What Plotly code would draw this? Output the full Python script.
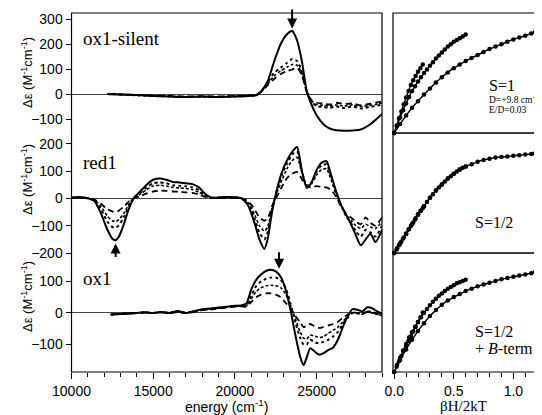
import plotly.graph_objects as go

# The page body adds an 8 px margin, so the figure is drawn 8 px smaller and reference
# pixel positions are converted with that offset.
OFF = 8
W, H = 542 - OFF, 415 - OFF
def px(xp): return (xp - OFF) / W
def py(yp): return 1 - (yp - OFF) / H

# ---------------- data: MCD spectra (energy in cm-1, delta-eps in M-1 cm-1) ----------------
E_top = [12200, 13000, 14000, 15000, 16000, 17000, 18000, 19000, 20000, 20800, 21300, 21600, 22000, 22400,
         22800, 23200, 23500, 23800, 24100, 24400, 24700, 25000, 25400, 25800, 26200, 26700, 27200, 27700,
         28200, 28600, 29000]
top_solid = [0, -2, -4, -8, -10, -12, -10, -12, -10, -8, -5, 10, 50, 130, 200, 240, 252, 215, 130, 10,
             -45, -85, -120, -138, -145, -147, -146, -142, -125, -104, -80]
top_dot = [0, -2, -5, -8, -10, -12, -11, -12, -10, -8, -5, 10, 45, 85, 105, 125, 140, 132, 90, 8,
           -32, -48, -52, -55, -50, -56, -50, -58, -52, -48, -42]
top_dd = [0, -2, -4, -7, -9, -11, -10, -11, -9, -7, -4, 9, 40, 72, 92, 108, 118, 115, 82, 8,
          -28, -42, -45, -48, -44, -48, -44, -50, -46, -42, -36]
top_dash = [0, -2, -4, -6, -8, -10, -9, -10, -8, -6, -4, 8, 35, 60, 80, 92, 98, 105, 75, 6,
            -25, -35, -38, -42, -35, -40, -38, -45, -40, -35, -30]

E_mid = [10000, 10500, 11000, 11400, 11800, 12200, 12500, 12700, 12900, 13200, 13500, 13800, 14200, 14600,
         15000, 15400, 15800, 16200, 16600, 17000, 17400, 17800, 18200, 18600, 19000, 19500, 20000, 20400,
         20800, 21200, 21500, 21800, 22000, 22300, 22600, 22900, 23200, 23500, 23800, 24100, 24400, 24700,
         25000, 25300, 25600, 25900, 26200, 26500, 26800, 27100, 27400, 27700, 28000, 28300, 28600, 29000]
mid_solid = [3, 5, 0, -10, -55, -115, -148, -153, -140, -95,
             -40, 0, 25, 50, 68, 73, 68, 60, 58, 55,
             52, 40, 15, 2, 3, 5, 4, 0, -25, -90,
             -150, -185, -150, -40, 40, 100, 140, 170, 188, 100,
             38, 60, 104, 130, 136, 82, 25, -25, -60, -95,
             -135, -172, -150, -130, -160, -116]
mid_dot = [2, 3, 0, -8, -40, -85, -105, -108, -98, -70,
           -30, 0, 20, 40, 55, 58, 55, 48, 46, 44,
           40, 30, 10, 2, 3, 4, 3, 0, -20, -75,
           -125, -150, -125, -35, 35, 90, 128, 160, 172, 100,
           42, 58, 98, 120, 124, 75, 20, -25, -65, -90,
           -120, -140, -115, -125, -140, -100]
mid_dd = [2, 2, 0, -6, -30, -65, -82, -85, -78, -55,
          -22, 0, 15, 32, 45, 48, 45, 40, 38, 36,
          32, 22, 8, 2, 2, 3, 2, 0, -15, -60,
          -100, -120, -105, -30, 25, 70, 110, 138, 150, 92,
          48, 55, 85, 105, 108, 65, 15, -25, -60, -80,
          -100, -110, -95, -105, -110, -85]
mid_dash = [2, 2, 0, -5, -20, -40, -48, -50, -45, -30,
            -12, 0, 8, 18, 25, 28, 27, 25, 24, 22,
            20, 14, 5, 1, 2, 2, 1, 0, -10, -40,
            -70, -82, -75, -25, 10, 45, 75, 90, 97, 70,
            45, 40, 45, 42, 40, 30, 5, -30, -55, -70,
            -85, -95, -70, -90, -100, -70]

E_bot = [12400, 13000, 13500, 14000, 14500, 15000, 15500, 16000, 16500, 17000, 17500, 18000, 18500, 19000,
         19500, 20000, 20400, 20700, 21000, 21300, 21600, 21900, 22200, 22500, 22800, 23100, 23400, 23700,
         24000, 24200, 24400, 24600, 24800, 25000, 25200, 25400, 25700, 26000, 26300, 26600, 26900, 27200,
         27500, 27800, 28100, 28400, 28700, 29000]
bot_solid = [-5, -3, -2, 0, 2, 0, 3, 0, 6, 0,
             6, 12, 14, 17, 20, 23, 24, 30, 75, 105,
             122, 133, 137, 132, 115, 75, 10, -70, -140, -165,
             -140, -112, -118, -128, -132, -128, -118, -110, -85, -45,
             -10, 12, 10, 5, 18, 15, 5, -3]
bot_dot = [-5, -3, -2, 0, 2, 0, 3, 0, 5, 0,
           5, 11, 13, 16, 19, 22, 23, 25, 55, 85,
           100, 108, 112, 112, 105, 80, 30, -30, -80, -100,
           -100, -85, -90, -95, -95, -92, -85, -75, -60, -35,
           -15, 0, 0, -2, 5, 3, -3, -8]
bot_dd = [-5, -3, -2, 0, 2, 0, 2, 0, 4, 0,
          4, 10, 12, 15, 18, 21, 22, 22, 45, 68,
          80, 86, 88, 86, 80, 60, 25, -20, -60, -80,
          -82, -70, -72, -75, -78, -75, -65, -55, -45, -28,
          -10, 0, -2, -4, 3, 0, -5, -8]
bot_dash = [-5, -3, -2, 0, 1, 0, 2, 0, 3, 0,
            3, 9, 11, 14, 17, 20, 21, 20, 35, 50,
            58, 62, 62, 58, 50, 32, 15, -10, -30, -45,
            -40, -35, -40, -45, -48, -45, -40, -35, -28, -15,
            -5, 2, 0, -3, 5, 2, -3, -5]

# ---------------- data: VTVH saturation curves (x = betaH/2kT, y = normalized) ----------------
bh_c = [0, .05, .1, .15, .2, .25, .3, .35, .4, .45, .5, .55, .6, .65, .7, .75, .8, .85, .9, .95,
        1.0, 1.05, 1.1, 1.15, 1.18]
bh_b = [0, .025, .05, .075, .1, .125, .15, .175, .2, .225, .25, .275, .3, .325, .35, .375, .4, .425,
        .45, .475, .5, .525, .55, .575, .6]
bh_a = [0, .02, .04, .06, .08, .1, .12, .14, .16, .18, .2, .22, .24]

s1_c = [0, .075, .145, .21, .265, .32, .37, .42, .465, .505, .54, .57, .60, .625, .65, .675, .70, .72,
        .74, .76, .78, .795, .81, .83, .84]
s1_b = [0, .065, .13, .19, .245, .30, .35, .39, .43, .465, .50, .53, .56, .59, .62, .645, .67, .695,
        .72, .74, .76, .775, .79, .805, .82]
s1_a = [0, .06, .12, .18, .24, .295, .35, .40, .44, .475, .51, .54, .57]

h_c = [0, .08, .16, .24, .32, .39, .46, .52, .57, .62, .66, .695, .72, .74, .76, .775, .785, .795,
       .80, .805, .81, .815, .82, .825, .83]
h_b = [0, .04, .08, .12, .16, .20, .24, .28, .32, .355, .39, .425, .46, .49, .52, .545, .57, .595,
       .62, .64, .66, .68, .695, .71, .72]
h_a = [0, .03, .065, .095, .13, .16, .195, .225, .255, .29, .32, .35, .375]

b_c = [0, .10, .19, .27, .345, .41, .47, .52, .565, .60, .63, .655, .68, .70, .72, .735, .75, .765,
       .78, .79, .80, .81, .82, .83, .84]
b_b = [0, .06, .12, .18, .235, .29, .335, .38, .42, .46, .495, .53, .56, .59, .615, .64, .66, .68,
       .70, .715, .73, .745, .755, .765, .775]
b_a = [0, .045, .09, .135, .18, .22, .26, .30, .34, .38, .42, .46, .50]

E_TICKS = [10000, 15000, 20000, 25000]
E_TICKTEXT = ["10000", "15000", "20000", "25000"]
B_TICKS = [0, 0.5, 1.0]
B_TICKTEXT = ["0.0", "0.5", "1.0"]
Y_TOP_TICKS = [-100, 0, 100, 200, 300]
Y_MID_TICKS = [-200, -100, 0, 100, 200]
Y_BOT_TICKS = [-100, 0, 100]

# ---------------- figure ----------------
fig = go.Figure()
styles = [dict(dash='solid', width=2.0), dict(dash='dot', width=2.0),
          dict(dash='3px,2px', width=1.6), dict(dash='6px,4px', width=1.8)]

for E, series, yax in [(E_top, [top_solid, top_dot, top_dd, top_dash], 'y'),
                       (E_mid, [mid_solid, mid_dot, mid_dd, mid_dash], 'y2'),
                       (E_bot, [bot_solid, bot_dot, bot_dd, bot_dash], 'y3')]:
    for vals, st in zip(series, styles):
        fig.add_trace(go.Scatter(x=E, y=vals, mode='lines', xaxis='x', yaxis=yax,
                                 line=dict(color='black', width=st['width'], dash=st['dash'],
                                           shape='spline', smoothing=0.6),
                                 showlegend=False, hoverinfo='skip'))

for sets, yax in [([(bh_a, s1_a), (bh_b, s1_b), (bh_c, s1_c)], 'y4'),
                  ([(bh_a, h_a), (bh_b, h_b), (bh_c, h_c)], 'y5'),
                  ([(bh_a, b_a), (bh_b, b_b), (bh_c, b_c)], 'y6')]:
    for xs, ys in sets:
        fig.add_trace(go.Scatter(x=xs, y=ys, mode='lines+markers', xaxis='x2', yaxis=yax,
                                 line=dict(color='black', width=1.4, shape='spline'),
                                 marker=dict(color='black', size=4.5),
                                 cliponaxis=False, showlegend=False, hoverinfo='skip'))

TF = dict(family='Liberation Sans', size=14, color='black')
left_x = [px(71.5), px(382)]
right_x = [px(393), px(536)]
d_top = [py(133), py(13)]
d_mid = [py(253), py(133)]
d_bot = [py(372), py(253)]

def yleft(domain, rng, ticks):
    return dict(domain=domain, range=rng, anchor='x', tickvals=ticks, ticks='outside', ticklen=5,
                tickwidth=1, tickcolor='black', tickfont=TF, showgrid=False, zeroline=True,
                zerolinecolor='#444', zerolinewidth=1, showline=False, automargin=False)

def yright(domain):
    return dict(domain=domain, range=[0, 1], anchor='x2', showticklabels=False, ticks='',
                showgrid=False, zeroline=False, showline=False, automargin=False)

fig.update_layout(
    template='none',
    width=W, height=H, autosize=False, margin=dict(l=0, r=0, t=0, b=0, pad=0, autoexpand=False),
    paper_bgcolor='white', plot_bgcolor='white', showlegend=False,
    xaxis=dict(domain=left_x, range=[10000, 29000], anchor='y3', tickvals=E_TICKS, ticktext=E_TICKTEXT,
               ticks='outside', ticklen=6, tickwidth=1, tickcolor='black', tickfont=TF,
               minor=dict(dtick=1000, tick0=0, ticks='outside', ticklen=4, tickwidth=1, tickcolor='black',
                          showgrid=False),
               showgrid=False, zeroline=False, showline=False, automargin=False),
    xaxis2=dict(domain=right_x, range=[-0.01, 1.19], anchor='y6', tickvals=B_TICKS, ticktext=B_TICKTEXT,
                ticks='outside', ticklen=6, tickwidth=1, tickcolor='black', tickfont=TF,
                minor=dict(dtick=0.1, tick0=0, ticks='outside', ticklen=4, tickwidth=1, tickcolor='black',
                           showgrid=False),
                showgrid=False, zeroline=False, showline=False, automargin=False),
    yaxis=yleft(d_top, [-156, 324], Y_TOP_TICKS),
    yaxis2=yleft(d_mid, [-200, 239], Y_MID_TICKS),
    yaxis3=yleft(d_bot, [-187, 190], Y_BOT_TICKS),
    yaxis4=yright(d_top),
    yaxis5=yright(d_mid),
    yaxis6=yright(d_bot),
)

shapes = [dict(type='rect', xref='paper', yref='paper', x0=left_x[0], x1=left_x[1], y0=d_bot[0], y1=d_top[1],
               line=dict(color='black', width=1.2))]
for d in (d_top, d_mid, d_bot):
    shapes.append(dict(type='rect', xref='paper', yref='paper', x0=right_x[0], x1=right_x[1], y0=d[0], y1=d[1],
                       line=dict(color='black', width=1.2)))
fig.update_layout(shapes=shapes)

SERIF = 'Liberation Serif'
ann = []
ytitle = 'Δε (M<sup>-1</sup>cm<sup>-1</sup>)'
for yc in (73, 180, 297):
    ann.append(dict(xref='paper', yref='paper', x=px(27), y=py(yc), text=ytitle, showarrow=False,
                    textangle=-90, font=dict(family='Liberation Sans', size=13, color='black'),
                    xanchor='center', yanchor='middle'))
ann.append(dict(xref='paper', yref='paper', x=px(226), y=py(406), text='energy (cm<sup>-1</sup>)',
                showarrow=False, font=TF, xanchor='center', yanchor='middle'))
ann.append(dict(xref='paper', yref='paper', x=px(463), y=py(406), text='βH/2kT',
                showarrow=False, font=dict(family=SERIF, size=15, color='black'), xanchor='center', yanchor='middle'))
for txt, yc in (('ox1-silent', 38), ('red1', 162), ('ox1', 278)):
    ann.append(dict(xref='paper', yref='paper', x=px(81), y=py(yc), text=txt, showarrow=False,
                    font=dict(family=SERIF, size=19, color='black'), xanchor='left', yanchor='middle'))
for txt, xl, yc, sz in (('S=1', 487, 85, 16), ('D=+9.8 cm<sup>-1</sup>', 487, 99, 9.5), ('E/D=0.03', 487, 110, 9.5),
                        ('S=1/2', 473, 222, 16), ('S=1/2', 473, 331, 16), ('+ <i>B</i>-term', 473, 348, 16)):
    ann.append(dict(xref='paper', yref='paper', x=px(xl), y=py(yc), text=txt, showarrow=False,
                    font=dict(family=SERIF, size=sz, color='black'), xanchor='left', yanchor='middle'))
# arrows marking the monitored energies
for xe, yv, ay, yr in ((23500, 262, -22, 'y'), (12700, -165, 15, 'y2'), (22700, 140, -18, 'y3')):
    ann.append(dict(xref='x', yref=yr, x=xe, y=yv, ax=0, ay=ay, text='', showarrow=True,
                    arrowhead=2, arrowsize=1, arrowwidth=2, arrowcolor='black'))
fig.update_layout(annotations=ann)

fig.write_html("out.html")
